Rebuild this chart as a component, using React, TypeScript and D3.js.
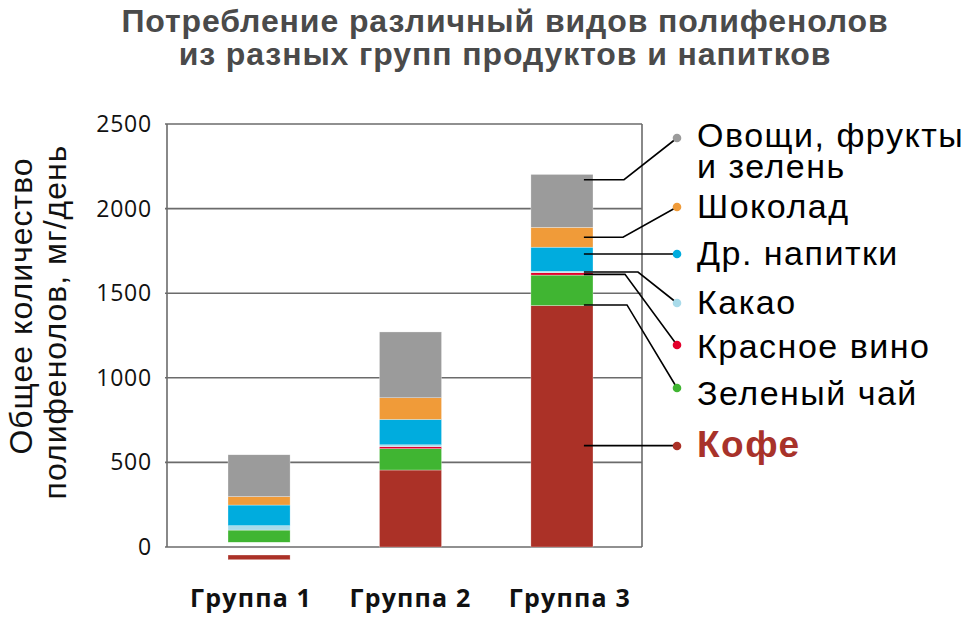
import { useEffect, useRef } from "react";
import * as d3 from "d3";

const groups = ["Группа 1", "Группа 2", "Группа 3"];
const seriesKeys = ["coffee", "greenTea", "redWine", "cocoa", "otherDrinks", "chocolate", "vegFruit"];
const seriesLabels = [["Кофе"], ["Зеленый чай"], ["Красное вино"], ["Какао"], ["Др. напитки"], ["Шоколад"], ["Овощи, фрукты", "и зелень"]];
const coffee = [28, 455, 1427];
const greenTea = [72, 126, 180];
const redWine = [0, 12, 14];
const cocoa = [26, 11, 8];
const otherDrinks = [122, 150, 143];
const chocolate = [50, 128, 117];
const vegFruit = [247, 389, 313];
const yTicks = [0, 500, 1000, 1500, 2000, 2500];
const colors = ["#ab3127", "#40b532", "#e3002b", "#a9dbea", "#00acde", "#f09b39", "#9b9b9b"];
const titleLines = ["Потребление различный видов полифенолов", "из разных групп продуктов и напитков"];
const yTitleLines = ["Общее количество", "полифенолов, мг/день"];

export default function App() {
  const svgRef = useRef<SVGSVGElement>(null);

  useEffect(() => {
    const svg = d3.select(svgRef.current);
    svg.selectAll("*").remove();

    const rows = groups.map((g, i) => ({
      group: g,
      coffee: coffee[i], greenTea: greenTea[i], redWine: redWine[i], cocoa: cocoa[i],
      otherDrinks: otherDrinks[i], chocolate: chocolate[i], vegFruit: vegFruit[i],
    }));
    const stacked = d3.stack<any>().keys(seriesKeys)(rows);

    const plotL = 167, plotR = 642;
    const x = d3.scaleBand().domain(groups).range([228, 593]).paddingInner(0.59).paddingOuter(0);
    const y = d3.scaleLinear().domain([0, 2500]).range([547, 124]);

    const helv = "'Liberation Sans', Arial, sans-serif";
    const myriad = "'Open Sans', 'Noto Sans', sans-serif";

    // title
    svg.append("g").selectAll("text").data(titleLines).join("text")
      .attr("x", 505).attr("y", (d, i) => 32 + i * 33)
      .attr("text-anchor", "middle")
      .attr("font-family", helv).attr("font-weight", "bold")
      .attr("font-size", 32).attr("letter-spacing", 0.9)
      .attr("fill", "#4a4a4a")
      .text(d => d);

    // y title
    svg.append("g").selectAll("text").data(yTitleLines).join("text")
      .attr("transform", (d, i) => `translate(${32 + i * 34},${306 + i * 16}) rotate(-90)`)
      .attr("text-anchor", "middle")
      .attr("font-family", helv).attr("font-size", 32).attr("letter-spacing", 1)
      .attr("fill", "#111")
      .text(d => d);

    // grid + frame
    const grid = svg.append("g");
    grid.selectAll("line").data(yTicks).join("line")
      .attr("x1", plotL - 2).attr("x2", plotR)
      .attr("y1", d => y(d)).attr("y2", d => y(d))
      .attr("stroke", "#6b6b6b").attr("stroke-width", 1.6);
    [plotL, plotR].forEach(px => {
      grid.append("line")
        .attr("x1", px).attr("x2", px).attr("y1", y(2500)).attr("y2", y(0))
        .attr("stroke", "#6b6b6b").attr("stroke-width", 1.6);
    });

    svg.append("g").selectAll("text").data(yTicks).join("text")
      .attr("x", 152).attr("y", d => y(d) + 8)
      .attr("text-anchor", "end")
      .attr("font-family", myriad).attr("font-size", 23).attr("letter-spacing", 0.8)
      .attr("fill", "#111")
      .text(d => d);

    // bars
    const bars = svg.append("g");
    stacked.forEach((layer, si) => {
      bars.selectAll(null).data(layer).join("rect")
        .attr("x", d => x(d.data.group)!)
        .attr("width", x.bandwidth())
        .attr("y", d => {
          // Group 1 coffee sits below the baseline in the original
          if (si === 0 && d.data.group === groups[0]) return y(0) + 8;
          return y(d[1]);
        })
        .attr("height", d => Math.max(0, y(d[0]) - y(d[1])))
        .attr("fill", colors[si])
        .attr("stroke", "#fff").attr("stroke-width", 0.5).attr("stroke-opacity", 0.6);
    });

    // group labels
    svg.append("g").selectAll("text").data(groups).join("text")
      .attr("x", (d, i) => x(d)! + x.bandwidth() / 2 + (i - 1) * 8).attr("y", 607)
      .attr("text-anchor", "middle")
      .attr("font-family", myriad).attr("font-weight", "bold")
      .attr("font-size", 25).attr("letter-spacing", 1.2)
      .attr("fill", "#111")
      .text(d => d);

    // legend with leader lines from group 3
    const dotY = [446, 388, 345, 303, 254, 207, 138];
    const textY = [457, 405, 358, 314, 265, 218, 147];
    const bendX = [null, 627, 625, 638, null, 623, 624];
    const anchor = [0.42, 0.02, 0.3, 0.5, 0.72, 0.5, 0.9];
    const last = groups[groups.length - 1];
    const startX = x(last)! + 53;
    const dotX = 677;
    const leg = svg.append("g");
    stacked.forEach((layer, si) => {
      const seg = layer.find(d => d.data.group === last)!;
      const sy = y(seg[0] + anchor[si] * (seg[1] - seg[0]));
      const pts: [number, number][] = bendX[si] == null
        ? [[startX, sy], [dotX, sy]]
        : [[startX, sy], [bendX[si] as number, sy], [dotX, dotY[si]]];
      leg.append("path")
        .attr("d", d3.line()(pts))
        .attr("fill", "none").attr("stroke", "#000").attr("stroke-width", 1.6);
      leg.append("circle")
        .attr("cx", dotX).attr("cy", dotY[si]).attr("r", 4.3)
        .attr("fill", colors[si]);
      const isCoffee = si === 0;
      leg.append("g").selectAll("text").data(seriesLabels[si]).join("text")
        .attr("x", 697).attr("y", (d, i) => textY[si] + i * 31)
        .attr("font-family", helv)
        .attr("font-weight", isCoffee ? "bold" : "normal")
        .attr("font-size", isCoffee ? 37 : 34)
        .attr("letter-spacing", 1.5)
        .attr("fill", isCoffee ? "#a8322a" : "#000")
        .text(d => d);
    });
  }, []);

  return (
    <svg
      ref={svgRef}
      width={967}
      height={619}
      style={{ position: "absolute", left: 0, top: 0, background: "#fff" }}
    />
  );
}
